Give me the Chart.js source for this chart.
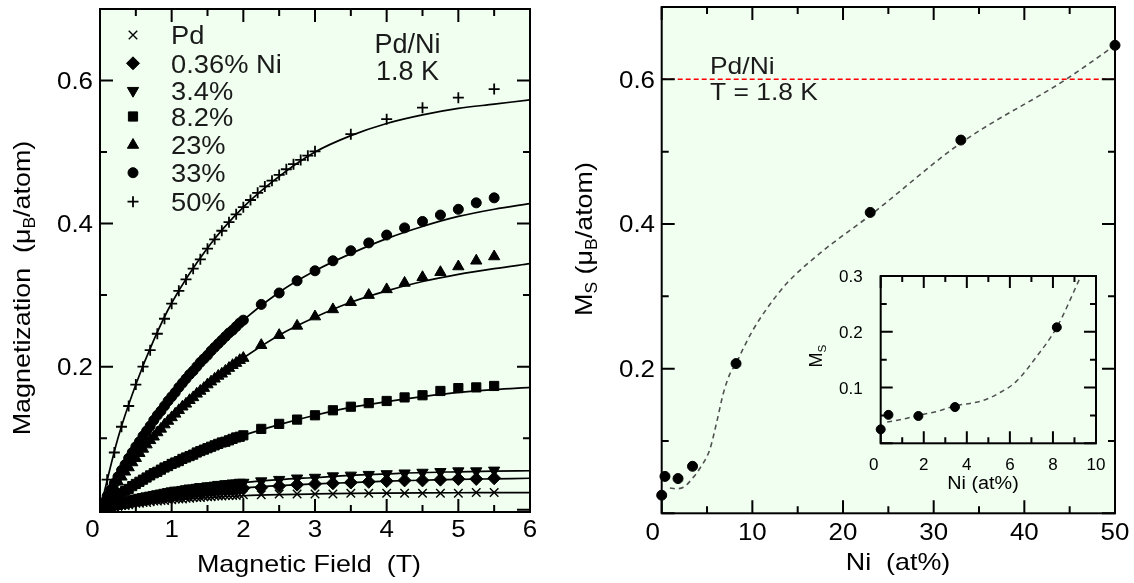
<!DOCTYPE html>
<html>
<head>
<meta charset="utf-8">
<script src="https://cdn.jsdelivr.net/npm/chart.js@4.4.1/dist/chart.umd.min.js"></script>
<style>
  body { margin: 0; background: #fff; }
  #wrap { position: relative; width: 1134px; height: 583px; overflow: hidden; }
  #wrap canvas { position: absolute; }
</style>
</head>
<body>
<div id="wrap">
  <canvas id="left_canvas" width="567" height="583" style="left:0;top:0"></canvas>
  <canvas id="right_canvas" width="567" height="583" style="left:567px;top:0"></canvas>
  <canvas id="inset_canvas" width="320" height="240" style="left:800px;top:260px"></canvas>
</div>
<script>
// ---- left panel: magnetization vs field, 1.8 K ----
const fieldLow = [0.05, 0.10, 0.15, 0.20, 0.25, 0.30, 0.35, 0.40, 0.45, 0.50,
  0.55, 0.60, 0.65, 0.70, 0.75, 0.80, 0.85, 0.90, 0.95, 1.00,
  1.05, 1.10, 1.15, 1.20, 1.25, 1.30, 1.35, 1.40, 1.45, 1.50,
  1.55, 1.60, 1.65, 1.70, 1.75, 1.80, 1.85, 1.90, 1.95, 2.00]
const fieldHigh = [2.25, 2.50, 2.75, 3.00, 3.25, 3.50, 3.75, 4.00, 4.25, 4.50, 4.75, 5.00, 5.25, 5.50]
const field50 = [0.1, 0.2, 0.3, 0.4, 0.5, 0.6, 0.7, 0.8, 0.9, 1.0,
  1.1, 1.2, 1.3, 1.4, 1.5, 1.6, 1.7, 1.8, 1.9, 2.0,
  2.1, 2.2, 2.3, 2.4, 2.5, 2.6, 2.7, 2.8, 2.9, 3.0,
  3.5, 4.0, 4.5, 5.0, 5.5]

const magPd = [0.001, 0.002, 0.003, 0.004, 0.005, 0.006, 0.006, 0.007, 0.008, 0.009,
  0.009, 0.010, 0.010, 0.011, 0.012, 0.012, 0.013, 0.013, 0.014, 0.014,
  0.015, 0.015, 0.015, 0.016, 0.016, 0.017, 0.017, 0.017, 0.018, 0.018,
  0.018, 0.019, 0.019, 0.019, 0.020, 0.020, 0.020, 0.020, 0.021, 0.021,
  0.021, 0.022, 0.022, 0.022, 0.022, 0.023, 0.023, 0.023, 0.023, 0.023, 0.023, 0.023, 0.024, 0.024]
const mag036 = [0.002, 0.003, 0.004, 0.006, 0.007, 0.008, 0.009, 0.010, 0.011, 0.012,
  0.013, 0.014, 0.015, 0.016, 0.017, 0.018, 0.018, 0.019, 0.020, 0.020,
  0.021, 0.022, 0.022, 0.023, 0.024, 0.024, 0.025, 0.025, 0.026, 0.026,
  0.027, 0.027, 0.028, 0.028, 0.028, 0.029, 0.029, 0.030, 0.030, 0.030,
  0.031, 0.033, 0.035, 0.036, 0.037, 0.038, 0.039, 0.040, 0.041, 0.041, 0.042, 0.043, 0.043, 0.044]
const mag34 = [0.002, 0.004, 0.006, 0.007, 0.009, 0.010, 0.012, 0.013, 0.014, 0.016,
  0.017, 0.018, 0.019, 0.020, 0.021, 0.022, 0.023, 0.024, 0.025, 0.026,
  0.027, 0.027, 0.028, 0.029, 0.030, 0.030, 0.031, 0.032, 0.032, 0.033,
  0.033, 0.034, 0.035, 0.035, 0.036, 0.036, 0.037, 0.037, 0.038, 0.038,
  0.040, 0.042, 0.044, 0.045, 0.047, 0.048, 0.049, 0.050, 0.051, 0.052, 0.053, 0.054, 0.054, 0.055]
const mag82 = [0.004, 0.008, 0.012, 0.016, 0.019, 0.023, 0.026, 0.029, 0.033, 0.036,
  0.039, 0.042, 0.045, 0.048, 0.051, 0.053, 0.056, 0.059, 0.061, 0.064,
  0.066, 0.068, 0.071, 0.073, 0.075, 0.077, 0.080, 0.082, 0.084, 0.086,
  0.088, 0.090, 0.092, 0.094, 0.095, 0.097, 0.099, 0.101, 0.102, 0.104,
  0.113, 0.120, 0.126, 0.132, 0.139, 0.144, 0.149, 0.152, 0.157, 0.160, 0.166, 0.170, 0.171, 0.173]
const mag23 = [0.008, 0.016, 0.024, 0.031, 0.039, 0.046, 0.053, 0.059, 0.066, 0.072,
  0.079, 0.085, 0.091, 0.097, 0.102, 0.108, 0.113, 0.119, 0.124, 0.129,
  0.134, 0.139, 0.144, 0.148, 0.153, 0.157, 0.162, 0.166, 0.170, 0.175,
  0.179, 0.183, 0.187, 0.190, 0.194, 0.198, 0.202, 0.205, 0.209, 0.212,
  0.230, 0.244, 0.257, 0.270, 0.280, 0.290, 0.300, 0.308, 0.317, 0.325, 0.332, 0.340, 0.348, 0.354]
const mag33 = [0.010, 0.019, 0.028, 0.037, 0.046, 0.055, 0.063, 0.072, 0.080, 0.088,
  0.095, 0.103, 0.110, 0.117, 0.125, 0.132, 0.138, 0.145, 0.152, 0.158,
  0.164, 0.171, 0.177, 0.183, 0.189, 0.194, 0.200, 0.206, 0.211, 0.216,
  0.222, 0.227, 0.232, 0.237, 0.242, 0.247, 0.251, 0.256, 0.261, 0.265,
  0.287, 0.303, 0.320, 0.334, 0.348, 0.362, 0.373, 0.384, 0.394, 0.403, 0.412, 0.420, 0.429, 0.436]
const mag50 = [0.042, 0.080, 0.116, 0.145, 0.175, 0.200, 0.223, 0.246, 0.267, 0.288,
  0.306, 0.322, 0.337, 0.350, 0.365, 0.378, 0.390, 0.402, 0.413, 0.423,
  0.433, 0.443, 0.452, 0.460, 0.468, 0.476, 0.483, 0.489, 0.495, 0.501,
  0.525, 0.546, 0.562, 0.576, 0.588]

// fitted curves (solid lines)
const fitField = [0, 0.25, 0.5, 0.75, 1, 1.5, 2, 2.5, 3, 3.5, 4, 4.5, 5, 5.5, 6]
const fitPd  = [0, 0.005, 0.0085, 0.011, 0.0135, 0.017, 0.0195, 0.021, 0.022, 0.0228, 0.0232, 0.0235, 0.0237, 0.0238, 0.024]
const fit036 = [0, 0.007, 0.0125, 0.017, 0.0205, 0.026, 0.0304, 0.0336, 0.036, 0.038, 0.040, 0.0412, 0.0424, 0.0432, 0.044]
const fit34  = [0, 0.009, 0.016, 0.021, 0.026, 0.033, 0.038, 0.042, 0.045, 0.048, 0.050, 0.052, 0.053, 0.054, 0.0545]
const fit82  = [0, 0.019, 0.036, 0.050, 0.063, 0.086, 0.104, 0.119, 0.132, 0.143, 0.151, 0.158, 0.164, 0.168, 0.171]
const fit23  = [0, 0.038, 0.072, 0.102, 0.129, 0.174, 0.212, 0.244, 0.269, 0.290, 0.306, 0.319, 0.329, 0.337, 0.344]
const fit33  = [0, 0.047, 0.088, 0.125, 0.158, 0.216, 0.265, 0.304, 0.334, 0.358, 0.379, 0.396, 0.410, 0.420, 0.428]
const fit50  = [0, 0.100, 0.175, 0.237, 0.289, 0.366, 0.423, 0.466, 0.500, 0.523, 0.540, 0.552, 0.561, 0.567, 0.573]

const legendLabels = ['Pd', '0.36% Ni', '3.4%', '8.2%', '23%', '33%', '50%']
const leftXTicks = [0, 1, 2, 3, 4, 5, 6]
const leftYTicks = [0.2, 0.4, 0.6]

// ---- right panel: saturation moment vs Ni content ----
const niPct = [0, 0.36, 1.8, 3.4, 8.2, 23, 33, 50]
const msVal = [0.025, 0.051, 0.048, 0.065, 0.207, 0.416, 0.516, 0.647]
const msFitX = [0.9, 1.5, 2.4, 3.5, 4.2, 5.3, 6.05, 6.8, 7.5, 8.2, 9, 10, 11.6, 13.8, 17.5, 23, 33, 44.6, 50]
const msFitY = [0.035, 0.034, 0.036, 0.050, 0.062, 0.088, 0.125, 0.166, 0.192, 0.207, 0.228, 0.252, 0.283, 0.318, 0.360, 0.412, 0.512, 0.600, 0.647]
const niMomentX = [0, 50]
const niMomentY = [0.6, 0.6]
const rightXTicks = [0, 10, 20, 30, 40, 50]
const rightYTicks = [0.2, 0.4, 0.6]

// inset (low Ni)
const insetNi = [0, 0.36, 1.75, 3.45, 8.18]
const insetMs = [0.025, 0.051, 0.049, 0.065, 0.208]
const insetFitX = [0.3, 1.0, 1.75, 2.6, 3.45, 4.2, 4.77, 5.5, 6.3, 7.25, 8.18, 9.3]
const insetFitY = [0.038, 0.043, 0.050, 0.057, 0.067, 0.072, 0.077, 0.090, 0.111, 0.156, 0.208, 0.300]
const insetXTicks = [0, 2, 4, 6, 8, 10]
const insetYTicks = [0.1, 0.2, 0.3]

const PLOT_BG = '#f0fff0'
const FONT = '"Liberation Sans", Arial, Helvetica, sans-serif'

const markerStyles = [
  { pointStyle: 'crossRot', radius: 6, rotation: 0, borderWidth: 1.4 },
  { pointStyle: 'rectRot', radius: 6.5, rotation: 0, borderWidth: 1 },
  { pointStyle: 'triangle', radius: 6.5, rotation: 180, borderWidth: 1 },
  { pointStyle: 'rect', radius: 6.5, rotation: 0, borderWidth: 1 },
  { pointStyle: 'triangle', radius: 6.5, rotation: 0, borderWidth: 1 },
  { pointStyle: 'circle', radius: 5, rotation: 0, borderWidth: 1 },
  { pointStyle: 'cross', radius: 5.5, rotation: 0, borderWidth: 1.8 },
]

function pts(xs, ys) {
  return xs.map((x, i) => ({ x: x, y: ys[i] }))
}

// draws text made of parts [[text, isSub]], optional rotation and horizontal stretch
function drawText(ctx, parts, x, y, o) {
  if (typeof parts === 'string') parts = [[parts]]
  let size = o.size, stretch = o.stretch || 1
  ctx.save()
  ctx.translate(x, y)
  if (o.rot) ctx.rotate(o.rot)
  ctx.scale(stretch, 1)
  let w = 0
  parts.forEach(p => {
    ctx.font = `${p[1] ? size * 0.65 : size}px ${FONT}`
    w += ctx.measureText(p[0]).width
  })
  let cx = o.align === 'right' ? -w : (o.align === 'center' ? -w / 2 : 0)
  ctx.fillStyle = o.color || '#000'
  ctx.textBaseline = 'alphabetic'
  parts.forEach(p => {
    ctx.font = `${p[1] ? size * 0.65 : size}px ${FONT}`
    ctx.fillText(p[0], cx, p[1] ? size * 0.22 : 0)
    cx += ctx.measureText(p[0]).width
  })
  ctx.restore()
}

// inward ticks on all four sides plus the box
function drawFrame(chart, s) {
  let ctx = chart.ctx, a = chart.chartArea
  let xs = chart.scales.x, ys = chart.scales.y
  ctx.save()
  ctx.strokeStyle = '#000'
  ctx.lineWidth = s.tickWidth
  ctx.beginPath()
  let xt = []
  s.xMajor.forEach(v => xt.push([v, s.major]))
  s.xMinor.forEach(v => xt.push([v, s.minor]))
  xt.forEach(([v, len]) => {
    let px = xs.getPixelForValue(v)
    ctx.moveTo(px, a.bottom); ctx.lineTo(px, a.bottom - len)
    ctx.moveTo(px, a.top); ctx.lineTo(px, a.top + len)
  })
  let yt = []
  s.yMajor.forEach(v => yt.push([v, s.major]))
  s.yMinor.forEach(v => yt.push([v, s.minor]))
  yt.forEach(([v, len]) => {
    let py = ys.getPixelForValue(v)
    ctx.moveTo(a.left, py); ctx.lineTo(a.left + len, py)
    ctx.moveTo(a.right, py); ctx.lineTo(a.right - len, py)
  })
  ctx.stroke()
  ctx.lineWidth = s.frameWidth
  ctx.strokeRect(a.left, a.top, a.right - a.left, a.bottom - a.top)
  ctx.restore()
}

const plotBackground = {
  id: 'plotBackground',
  beforeDraw(chart, args, opts) {
    if (!opts.color) return
    let a = chart.chartArea, ctx = chart.ctx
    ctx.save()
    ctx.fillStyle = opts.color
    ctx.fillRect(a.left, a.top, a.right - a.left, a.bottom - a.top)
    ctx.restore()
  }
}

function baseOptions(pad, xr, yr) {
  return {
    responsive: false,
    animation: false,
    events: [],
    devicePixelRatio: 1,
    layout: { padding: pad },
    scales: {
      x: { type: 'linear', display: false, min: xr[0], max: xr[1] },
      y: { type: 'linear', display: false, min: yr[0], max: yr[1] },
    },
    plugins: { legend: { display: false }, tooltip: { enabled: false } },
  }
}

function drawMarker(ctx, style, x, y) {
  ctx.save()
  ctx.fillStyle = '#000'
  ctx.strokeStyle = '#000'
  ctx.lineWidth = style.borderWidth
  if (Chart.helpers && Chart.helpers.drawPoint) {
    Chart.helpers.drawPoint(ctx, style, x, y)
  } else {
    ctx.beginPath(); ctx.arc(x, y, style.radius, 0, Math.PI * 2); ctx.fill()
  }
  ctx.restore()
}

// ---------------- left chart ----------------
let leftSeries = [magPd, mag036, mag34, mag82, mag23, mag33]
let fieldAll = fieldLow.concat(fieldHigh)
let leftSets = []
leftSeries.forEach((m, i) => {
  let st = markerStyles[i]
  leftSets.push({
    data: pts(fieldAll, m),
    pointStyle: st.pointStyle, pointRadius: st.radius, pointRotation: st.rotation,
    pointBorderWidth: st.borderWidth, pointBackgroundColor: '#000', pointBorderColor: '#000',
  })
})
leftSets.push({
  data: pts(field50, mag50),
  pointStyle: 'cross', pointRadius: markerStyles[6].radius, pointBorderWidth: markerStyles[6].borderWidth,
  pointBackgroundColor: '#000', pointBorderColor: '#000',
})
;[fitPd, fit036, fit34, fit82, fit23, fit33, fit50].forEach(f => {
  leftSets.push({
    data: pts(fitField, f), showLine: true, pointRadius: 0,
    borderColor: '#000', borderWidth: 1.7, cubicInterpolationMode: 'monotone',
  })
})

let leftOpts = baseOptions({ left: 100, top: 9, right: 37, bottom: 71 }, [0, 6], [-0.0032, 0.70])
leftOpts.plugins.plotBackground = { color: PLOT_BG }

new Chart(document.getElementById('left_canvas'), {
  type: 'scatter',
  data: { datasets: leftSets },
  options: leftOpts,
  plugins: [plotBackground, {
    id: 'leftDecor',
    afterDraw(chart) {
      let ctx = chart.ctx, xs = chart.scales.x, ys = chart.scales.y
      drawFrame(chart, {
        xMajor: leftXTicks, xMinor: [0.5, 1.5, 2.5, 3.5, 4.5, 5.5],
        yMajor: [0].concat(leftYTicks), yMinor: [0.1, 0.3, 0.5],
        major: 13, minor: 7, tickWidth: 2, frameWidth: 2
      })
      leftXTicks.forEach(v => {
        let px = xs.getPixelForValue(v) + (v === 0 ? -7.5 : 0)
        drawText(ctx, String(v), px, 537, { size: 24, align: 'center', stretch: 1.08 })
      })
      leftYTicks.forEach(v => {
        drawText(ctx, v.toFixed(1), 93, ys.getPixelForValue(v) + 8.5, { size: 24, align: 'right', stretch: 1.08 })
      })
      drawText(ctx, 'Magnetic Field  (T)', 309, 572, { size: 24, align: 'center', stretch: 1.12 })
      drawText(ctx, [['Magnetization  (μ'], ['B', true], ['/atom)']], 30, 288,
        { size: 24, align: 'center', stretch: 1.12, rot: -Math.PI / 2 })
      // legend
      let rows = [35, 63.3, 90.7, 116.5, 145, 172.7, 201.7]
      legendLabels.forEach((lab, i) => {
        drawMarker(ctx, markerStyles[i], 133, rows[i])
        drawText(ctx, lab, 171, rows[i] + 9.3, { size: 26, stretch: 1.05, color: '#1a1a1a' })
      })
      drawText(ctx, 'Pd/Ni', 407.5, 53, { size: 27, align: 'center', color: '#1a1a1a' })
      drawText(ctx, '1.8 K', 407.5, 80, { size: 27, align: 'center', color: '#1a1a1a' })
    }
  }]
})

// ---------------- right chart ----------------
let rightOpts = baseOptions({ left: 94.7, top: 7, right: 19, bottom: 69.7 }, [0, 50], [0, 0.70])
rightOpts.plugins.plotBackground = { color: PLOT_BG }

new Chart(document.getElementById('right_canvas'), {
  type: 'scatter',
  data: {
    datasets: [
      {
        data: pts(niPct, msVal), pointStyle: 'circle', pointRadius: 5, pointBorderWidth: 1,
        pointBackgroundColor: '#000', pointBorderColor: '#000', clip: false,
      },
      {
        data: pts(msFitX, msFitY), showLine: true, pointRadius: 0, borderColor: '#505050',
        borderWidth: 1.6, borderDash: [5, 4], cubicInterpolationMode: 'monotone',
      },
      {
        data: pts(niMomentX, niMomentY), showLine: true, pointRadius: 0, borderColor: '#ff0000',
        borderWidth: 1.5, borderDash: [5, 3],
      },
    ]
  },
  options: rightOpts,
  plugins: [plotBackground, {
    id: 'rightDecor',
    afterDraw(chart) {
      let ctx = chart.ctx, xs = chart.scales.x, ys = chart.scales.y
      drawFrame(chart, {
        xMajor: rightXTicks, xMinor: [5, 15, 25, 35, 45],
        yMajor: [0].concat(rightYTicks), yMinor: [0.1, 0.3, 0.5],
        major: 13, minor: 7, tickWidth: 2, frameWidth: 2
      })
      rightXTicks.forEach(v => {
        let px = xs.getPixelForValue(v) + (v === 0 ? -9 : 0)
        drawText(ctx, String(v), px, 540, { size: 24, align: 'center', stretch: 1.08 })
      })
      rightYTicks.forEach(v => {
        drawText(ctx, v.toFixed(1), 88, ys.getPixelForValue(v) + 8.5, { size: 24, align: 'right', stretch: 1.08 })
      })
      drawText(ctx, 'Ni  (at%)', 331, 570, { size: 24, align: 'center', stretch: 1.12 })
      drawText(ctx, [['M'], ['S', true], [' (μ'], ['B', true], ['/atom)']], 25, 239,
        { size: 24, align: 'center', stretch: 1.12, rot: -Math.PI / 2 })
      drawText(ctx, 'Pd/Ni', 143, 74, { size: 24, stretch: 1.1, color: '#1a1a1a' })
      drawText(ctx, 'T = 1.8 K', 143, 100, { size: 24, stretch: 1.1, color: '#1a1a1a' })
    }
  }]
})

// ---------------- inset ----------------
let insetOpts = baseOptions({ left: 80.7, top: 16, right: 24, bottom: 56.7 }, [0, 10], [0, 0.3])
insetOpts.plugins.plotBackground = { color: PLOT_BG }

new Chart(document.getElementById('inset_canvas'), {
  type: 'scatter',
  data: {
    datasets: [
      {
        data: pts(insetNi, insetMs), pointStyle: 'circle', pointRadius: 4.5, pointBorderWidth: 1,
        pointBackgroundColor: '#000', pointBorderColor: '#000', clip: false,
      },
      {
        data: pts(insetFitX, insetFitY), showLine: true, pointRadius: 0, borderColor: '#505050',
        borderWidth: 1.5, borderDash: [5, 4], cubicInterpolationMode: 'monotone',
      },
    ]
  },
  options: insetOpts,
  plugins: [plotBackground, {
    id: 'insetDecor',
    afterDraw(chart) {
      let ctx = chart.ctx, xs = chart.scales.x, ys = chart.scales.y
      drawFrame(chart, {
        xMajor: insetXTicks, xMinor: [1, 3, 5, 7, 9],
        yMajor: [0].concat(insetYTicks), yMinor: [0.05, 0.15, 0.25],
        major: 12, minor: 6, tickWidth: 2, frameWidth: 2
      })
      insetXTicks.forEach(v => {
        let px = xs.getPixelForValue(v) + (v === 0 ? -7 : 0)
        drawText(ctx, String(v), px, 210, { size: 17, align: 'center' })
      })
      insetYTicks.forEach(v => {
        drawText(ctx, v.toFixed(1), 62.7, ys.getPixelForValue(v) + 6, { size: 17, align: 'right' })
      })
      drawText(ctx, 'Ni (at%)', 183, 229, { size: 18, align: 'center', stretch: 1.1 })
      drawText(ctx, [['M'], ['S', true]], 22, 96, { size: 18, align: 'center', rot: -Math.PI / 2 })
    }
  }]
})
</script>
</body>
</html>
